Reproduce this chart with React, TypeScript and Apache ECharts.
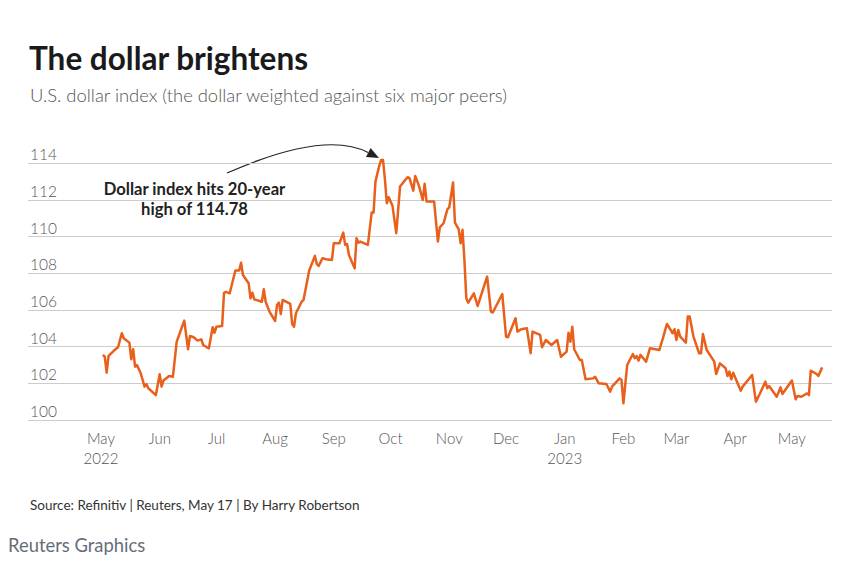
import React, { useEffect, useRef } from "react";
import * as echarts from "echarts";

// ---- Data ----
const dates: string[] = [
  "2022-05-02","2022-05-03","2022-05-04","2022-05-05","2022-05-08","2022-05-10","2022-05-12","2022-05-13","2022-05-16","2022-05-17",
  "2022-05-18","2022-05-19","2022-05-20","2022-05-22","2022-05-24","2022-05-25","2022-05-26","2022-05-30","2022-06-01","2022-06-02",
  "2022-06-03","2022-06-06","2022-06-08","2022-06-10","2022-06-14","2022-06-16","2022-06-17","2022-06-19","2022-06-21","2022-06-23",
  "2022-06-24","2022-06-27","2022-06-29","2022-06-30","2022-07-01","2022-07-04","2022-07-05","2022-07-06","2022-07-08","2022-07-11",
  "2022-07-13","2022-07-14","2022-07-15","2022-07-18","2022-07-19","2022-07-20","2022-07-21","2022-07-25","2022-07-26","2022-07-27",
  "2022-07-29","2022-08-01","2022-08-02","2022-08-03","2022-08-04","2022-08-05","2022-08-09","2022-08-10","2022-08-11","2022-08-12",
  "2022-08-15","2022-08-16","2022-08-19","2022-08-22","2022-08-23","2022-08-24","2022-08-26","2022-08-28","2022-08-31","2022-09-01",
  "2022-09-04","2022-09-06","2022-09-07","2022-09-08","2022-09-09","2022-09-12","2022-09-13","2022-09-14","2022-09-15","2022-09-19",
  "2022-09-21","2022-09-22","2022-09-23","2022-09-25","2022-09-26","2022-09-27","2022-09-28","2022-09-29","2022-09-30","2022-10-02",
  "2022-10-04","2022-10-06","2022-10-08","2022-10-10","2022-10-11","2022-10-13","2022-10-14","2022-10-16","2022-10-18","2022-10-19",
  "2022-10-20","2022-10-24","2022-10-26","2022-10-27","2022-10-29","2022-10-31","2022-11-01","2022-11-03","2022-11-04","2022-11-06",
  "2022-11-07","2022-11-08","2022-11-09","2022-11-10","2022-11-11","2022-11-14","2022-11-16","2022-11-21","2022-11-23","2022-11-24",
  "2022-11-29","2022-12-01","2022-12-02","2022-12-06","2022-12-07","2022-12-09","2022-12-12","2022-12-14","2022-12-15","2022-12-19",
  "2022-12-20","2022-12-22","2022-12-25","2022-12-28","2022-12-30","2023-01-02","2023-01-03","2023-01-04","2023-01-05","2023-01-06",
  "2023-01-09","2023-01-10","2023-01-12","2023-01-16","2023-01-17","2023-01-19","2023-01-23","2023-01-25","2023-01-26","2023-01-30",
  "2023-01-31","2023-02-01","2023-02-03","2023-02-06","2023-02-07","2023-02-08","2023-02-09","2023-02-10","2023-02-13","2023-02-15",
  "2023-02-20","2023-02-22","2023-02-24","2023-02-27","2023-02-28","2023-03-01","2023-03-02","2023-03-03","2023-03-06","2023-03-07",
  "2023-03-08","2023-03-10","2023-03-13","2023-03-14","2023-03-15","2023-03-17","2023-03-21","2023-03-22","2023-03-24","2023-03-27",
  "2023-03-28","2023-03-29","2023-03-30","2023-03-31","2023-04-04","2023-04-05","2023-04-10","2023-04-12","2023-04-14","2023-04-17",
  "2023-04-18","2023-04-19","2023-04-23","2023-04-25","2023-04-26","2023-05-01","2023-05-03","2023-05-04","2023-05-06","2023-05-09",
  "2023-05-10","2023-05-11","2023-05-14","2023-05-15","2023-05-17"
];

const values: number[] = [
  103.55,103.45,102.58,103.5,103.8,103.97,104.73,104.46,104.22,103.31,
  103.86,102.91,103.0,102.55,101.82,101.96,101.73,101.36,102.5,101.82,
  102.15,102.4,102.36,104.27,105.42,103.86,104.58,104.51,104.33,104.4,
  104.09,103.91,105.06,104.76,105.09,105.13,106.94,106.99,106.91,108.15,
  108.15,108.58,107.91,107.46,106.64,106.94,106.58,106.45,107.13,106.45,
  105.91,105.4,106.27,106.4,105.78,106.55,106.33,105.24,105.09,105.82,
  106.45,106.55,108.15,108.95,108.51,108.4,108.82,108.77,108.73,109.64,
  109.64,110.22,109.55,109.6,109.0,108.27,109.91,109.67,109.73,109.55,
  111.31,111.31,113.0,113.86,114.18,114.18,113.13,111.82,112.15,111.68,
  110.19,112.73,113.0,113.24,113.19,112.51,113.31,112.77,112.0,112.88,
  111.91,111.91,109.73,110.51,110.73,111.49,111.6,112.95,110.76,110.4,
  109.64,110.37,108.73,106.64,106.4,106.91,106.22,107.82,105.91,105.86,
  106.87,104.55,104.51,105.55,104.82,104.95,105.0,103.64,104.82,104.64,
  103.97,104.36,104.09,104.36,103.45,103.73,104.76,104.27,105.09,103.86,
  103.27,103.27,102.22,102.27,102.36,102.0,101.96,101.55,101.82,102.27,
  102.18,100.91,103.0,103.6,103.37,103.49,103.24,103.55,103.18,103.91,
  103.82,104.51,105.24,104.73,104.95,104.36,104.91,104.55,104.22,105.64,
  105.64,104.55,103.64,103.64,104.69,103.82,103.18,102.51,103.09,102.82,
  102.4,102.64,102.22,102.58,101.6,101.82,102.45,101.0,101.42,102.09,
  101.73,101.85,101.27,101.78,101.42,102.15,101.13,101.31,101.27,101.45,
  101.36,102.69,102.51,102.4,102.87
];

const tickMonths: string[] = [
  "2022-05-01","2022-06-01","2022-07-01","2022-08-01","2022-09-01","2022-10-01","2022-11-01",
  "2022-12-01","2023-01-01","2023-02-01","2023-03-01","2023-04-01","2023-05-01"
];
const monthNames: string[] = ["Jan","Feb","Mar","Apr","May","Jun","Jul","Aug","Sep","Oct","Nov","Dec"];
const yearLabelMonths: string[] = ["2022-05-01", "2023-01-01"];

const yMin = 100;
const yMax = 114;
const yStep = 2;

const titleText = "The dollar brightens";
const subtitleText = "U.S. dollar index (the dollar weighted against six major peers)";
const annotationLines: string[] = ["Dollar index hits 20-year", "high of 114.78"];
const sourceText = "Source: Refinitiv | Reuters, May 17 | By Harry Robertson";
const brandText = "Reuters Graphics";

const DAY = 86400000;
const toTs = (s: string) => {
  const [y, m, d] = s.split("-").map(Number);
  return new Date(y, m - 1, d).getTime();
};

const FONT = "Lato, 'Source Sans Pro', 'Noto Sans', sans-serif";
const ORANGE = "#e8601c";

export default function App() {
  const ref = useRef<HTMLDivElement>(null);

  useEffect(() => {
    if (!ref.current) return;
    const chart = echarts.init(ref.current, undefined, { renderer: "svg" });
    const base = toTs(tickMonths[0]);
    const seriesData = dates.map((d, i) => [toTs(d), values[i]]);
    const yearTs = yearLabelMonths.map(toTs);

    chart.setOption({
      animation: false,
      backgroundColor: "#ffffff",
      grid: { left: 28, right: 19, top: 163.3, bottom: 142, containLabel: false },
      xAxis: {
        type: "value",
        min: base - 38.56 * DAY,
        max: base + 386.2 * DAY,
        axisLine: { show: false },
        axisTick: { show: false },
        splitLine: { show: false },
        axisLabel: {
          customValues: tickMonths.map(toTs),
          color: "#555",
          fontFamily: FONT,
          fontWeight: 300,
          fontSize: 15,
          lineHeight: 20,
          margin: 8,
          formatter: (val: number) => {
            const d = new Date(val);
            const name = monthNames[d.getMonth()];
            const isYear = yearTs.some((t) => Math.abs(t - val) < DAY);
            return isYear ? name + "\n" + d.getFullYear() : name;
          },
        },
      },
      yAxis: {
        type: "value",
        min: yMin,
        max: yMax,
        interval: yStep,
        axisLine: { show: false },
        axisTick: { show: false },
        axisLabel: {
          inside: true,
          verticalAlign: "bottom",
          margin: 2,
          color: "#555",
          fontFamily: FONT,
          fontWeight: 300,
          fontSize: 15.5,
          padding: [0, 0, 1, 0],
        },
        splitLine: { lineStyle: { color: "#cccccc", width: 1 } },
      },
      series: [
        {
          type: "line",
          data: seriesData,
          showSymbol: false,
          clip: false,
          lineStyle: { color: ORANGE, width: 2.5, join: "round" },
          itemStyle: { color: ORANGE },
        },
      ],
      graphic: [
        {
          type: "text",
          x: 29,
          y: 58,
          style: { text: titleText, font: `bold 31.5px ${FONT}`, fill: "#1a1a1a", textVerticalAlign: "middle" },
        },
        {
          type: "text",
          x: 30,
          y: 95,
          style: { text: subtitleText, font: `300 18.4px ${FONT}`, fill: "#555", textVerticalAlign: "middle" },
        },
        {
          type: "text",
          x: 194.5,
          y: 189,
          style: { text: annotationLines[0], font: `bold 16.6px ${FONT}`, fill: "#222", textAlign: "center", textVerticalAlign: "middle" },
        },
        {
          type: "text",
          x: 194.5,
          y: 209,
          style: { text: annotationLines[1], font: `bold 16.6px ${FONT}`, fill: "#222", textAlign: "center", textVerticalAlign: "middle" },
        },
        {
          type: "bezierCurve",
          shape: { x1: 227, y1: 173, cpx1: 325, cpy1: 130, x2: 368, y2: 152.5 },
          style: { stroke: "#222", lineWidth: 1.2, fill: null },
        },
        {
          type: "polygon",
          shape: { points: [[379, 158], [366, 156.9], [370.6, 148.1]] },
          style: { fill: "#222" },
        },
        {
          type: "text",
          x: 30,
          y: 505,
          style: { text: sourceText, font: `13.5px ${FONT}`, fill: "#333", textVerticalAlign: "middle" },
        },
        {
          type: "text",
          x: 8,
          y: 545,
          style: { text: brandText, font: `18.4px ${FONT}`, fill: "#666d78", textVerticalAlign: "middle" },
        },
      ],
    });

    return () => chart.dispose();
  }, []);

  return (
    <div
      ref={ref}
      style={{ position: "fixed", left: 0, top: 0, width: 851, height: 562, background: "#fff" }}
    />
  );
}
